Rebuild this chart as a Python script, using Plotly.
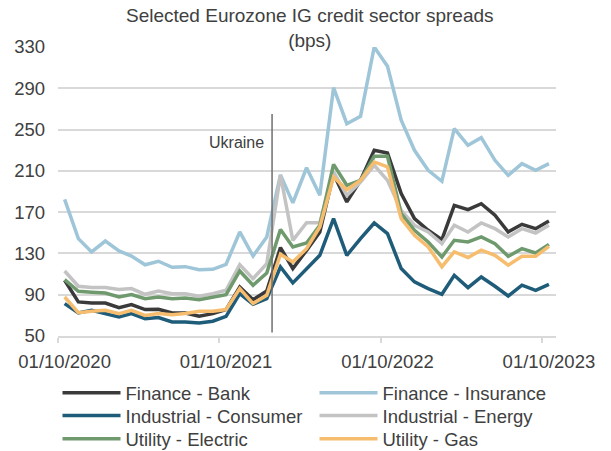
import pandas as pd
import plotly.graph_objects as go

months = pd.date_range("2020-10-01", periods=37, freq="MS")

finance_bank = [104, 83, 82, 82, 77.5, 80.4, 75.6, 75.9, 72.3, 72.3, 69.1, 71.7, 75.6, 97.5, 85.2, 93.6,
                135.6, 115.3, 133, 150.8, 207.3, 179.9, 200.8, 229.9, 227.3, 187.9, 163.7, 152.4, 143.4,
                176.6, 172.4, 178.2, 167.1, 150.8, 158.2, 154, 161.4]
finance_insurance = [182.4, 144.3, 131.4, 142, 132.4, 127.5, 119, 122.4, 116.6, 117.2, 114.3, 114.6, 119.5,
                     150.8, 127.5, 146, 206, 179, 213, 186.3, 290.6, 255.7, 262.8, 330, 311.3, 259, 229.9,
                     210.5, 199.9, 250.9, 234.7, 242.2, 220.2, 205.7, 217, 210.5, 217]
industrial_consumer = [81.4, 72.3, 74.9, 71.7, 68.5, 71.7, 66.8, 67.8, 63.6, 63.6, 62.6, 64.3, 69.1, 91,
                       80.7, 86.2, 116.9, 101.4, 115.3, 128.2, 163.7, 128.2, 144.3, 159.5, 149.2, 115.3,
                       102.4, 95.9, 90.4, 108.8, 96.9, 107.2, 98.2, 88.8, 99.2, 94.3, 100.1]
industrial_energy = [113, 98.2, 96.9, 96.9, 95, 96, 90.4, 93.6, 91, 91, 88.5, 91, 94.3, 119.1, 105.6, 120,
                     206, 142.7, 159.8, 159.8, 209, 186.3, 199.2, 215.4, 200.8, 171.8, 157.3, 150.8, 139.5,
                     157.3, 150.8, 159.5, 154, 146, 154, 149.8, 157.3]
utility_electric = [104.6, 93.3, 92.4, 91.7, 87.8, 90.1, 86.2, 87.8, 86.2, 86.9, 85.2, 87.8, 90.1, 113,
                    99.2, 111.1, 153.1, 136.3, 140.1, 157.3, 216.3, 196, 200.8, 224.1, 224.1, 168.6, 152.4,
                    141.1, 126.6, 142.7, 141.1, 146, 139.5, 127.2, 134.6, 130.4, 138.8]
utility_gas = [87.8, 72.6, 73.9, 74.9, 71.7, 74.9, 70, 71.7, 70.7, 71.7, 73.9, 73.9, 75.6, 95.9, 81.4,
               89.4, 129.2, 121.7, 134.6, 155.6, 204.1, 191.8, 200.8, 218.6, 213.8, 163.7, 147.6, 136.3,
               117.1, 131.6, 126.1, 133.2, 128.2, 118.6, 127.2, 127.2, 136.9]

series_names = ["Finance - Bank", "Finance - Insurance", "Industrial - Consumer",
                "Industrial - Energy", "Utility - Electric", "Utility - Gas"]
series_values = [finance_bank, finance_insurance, industrial_consumer,
                 industrial_energy, utility_electric, utility_gas]
series_colors = ["#3a3a3a", "#9fc5d8", "#1f5c79", "#c3c3c3", "#6e9a6e", "#f7bd6f"]

tick_years = ["2020-10-16", "2021-10-16", "2022-10-16", "2023-10-16"]
tick_labels = ["01/10/2020", "01/10/2021", "01/10/2022", "01/10/2023"]
y_ticks = [50, 90, 130, 170, 210, 250, 290, 330]

event_date = "2022-01-28"
event_label = "Ukraine"

x_pos = months + pd.Timedelta(days=15)

font_fam = "Liberation Sans, Arial, sans-serif"
txt_col = "#404040"
fs = 18.5

legend_ids = ["legend", "legend", "legend2", "legend2", "legend3", "legend3"]

fig = go.Figure()
for name, vals, col, lid in zip(series_names, series_values, series_colors, legend_ids):
    fig.add_trace(go.Scatter(x=x_pos, y=vals, name=name, mode="lines",
                             line=dict(color=col, width=3.5), legend=lid))

fig.add_shape(type="line", x0=event_date, x1=event_date, y0=53.3, y1=265,
              xref="x", yref="y", line=dict(color="#6f6f6f", width=1.5))
fig.add_annotation(x=event_date, y=237, xref="x", yref="y", text=event_label,
                   showarrow=False, xanchor="right", xshift=-6,
                   font=dict(size=16, color=txt_col, family=font_fam))

leg_common = dict(orientation="h", x=-0.001, xanchor="left", yanchor="middle",
                  entrywidth=184, entrywidthmode="pixels", itemwidth=58,
                  font=dict(size=fs, color=txt_col, family=font_fam),
                  bgcolor="rgba(0,0,0,0)", tracegroupgap=0)

fig.update_layout(
    width=611, height=451,
    margin=dict(l=58, r=55, t=47, b=115, autoexpand=False),
    paper_bgcolor="white", plot_bgcolor="white",
    font=dict(family=font_fam, color=txt_col, size=fs),
    title=dict(text="Selected Eurozone IG credit sector spreads<br>(bps)",
               x=0.507, xanchor="center", y=0.951, yanchor="top", yref="container",
               font=dict(size=19, color=txt_col, family=font_fam)),
    showlegend=True,
    legend=dict(y=-0.198, **leg_common),
    legend2=dict(y=-0.277, **leg_common),
    legend3=dict(y=-0.357, **leg_common),
)

fig.update_xaxes(type="date", range=["2020-10-01", "2023-11-01"],
                 tickmode="array", tickvals=tick_years, ticktext=tick_labels,
                 ticks="", showgrid=False, showline=True, linecolor="#d9d9d9", linewidth=1.5,
                 tickfont=dict(size=fs, color=txt_col), ticklabelstandoff=8,
                 minor=dict(ticks="outside", ticklen=5, tickcolor="#d9d9d9", tickwidth=1.5,
                            dtick="M12", tick0="2020-10-01", showgrid=False),
                 zeroline=False)
fig.update_yaxes(range=[50, 330], tickmode="array", tickvals=y_ticks,
                 showgrid=True, gridcolor="#d9d9d9", gridwidth=1.5, zeroline=False,
                 showline=False, ticks="", tickfont=dict(size=fs, color=txt_col),
                 ticklabelstandoff=12)

fig.write_html("out.html", config={"displayModeBar": False},
               post_script="document.body.style.margin='0';")
